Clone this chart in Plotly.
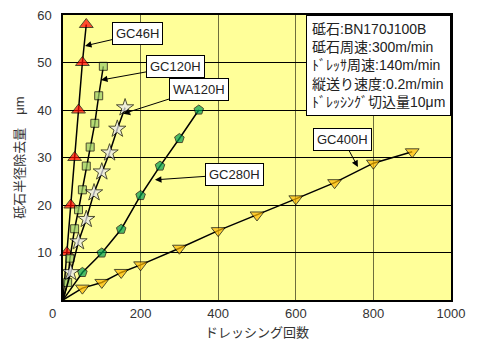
import plotly.graph_objects as go

# ---- data ----
gc46h_x = [0, 10, 20, 30, 40, 50, 60]
gc46h_y = [0, 10, 20, 30, 40, 50, 58]

gc120h_x = [0, 12, 18, 30, 40, 50, 60, 70, 82, 92, 104]
gc120h_y = [0, 3.7, 8.8, 15, 19, 23.2, 28.2, 32.2, 37.2, 43, 49.2]

wa120h_x = [0, 20, 40, 60, 80, 100, 120, 140, 160]
wa120h_y = [0, 5.8, 12.3, 17, 22.6, 27, 31, 36, 40.5]

gc280h_x = [0, 50, 100, 150, 200, 250, 300, 350]
gc280h_y = [0, 5.8, 9.9, 14.9, 22, 28.2, 34, 40]

gc400h_x = [0, 50, 100, 150, 200, 300, 400, 500, 600, 700, 800, 900]
gc400h_y = [0, 2.5, 3.7, 5.8, 7.4, 10.9, 14.6, 17.9, 21.3, 24.7, 28.8, 31.2]

x_ticks = [200, 400, 600, 800, 1000]
y_ticks = [10, 20, 30, 40, 50, 60]

info_lines = ["砥石:BN170J100B", "砥石周速:300m/min", "ﾄﾞﾚｯｻ周速:140m/min",
              "縦送り速度:0.2m/min", "ﾄﾞﾚｯｼﾝｸﾞ切込量10μm"]

FONT = "Liberation Sans, Arial, Noto Sans CJK JP, sans-serif"

series = [
    ("GC46H", gc46h_x, gc46h_y, "triangle-up", 12, "#FF0000"),
    ("GC120H", gc120h_x, gc120h_y, "square", 8, "#99CC66"),
    ("WA120H", wa120h_x, wa120h_y, "star", 13, "#E8E8F4"),
    ("GC280H", gc280h_x, gc280h_y, "pentagon", 10, "#00A050"),
    ("GC400H", gc400h_x, gc400h_y, "triangle-down", 12, "#FFB800"),
]

fig = go.Figure()
for name, xs, ys, sym, sz, col in series:
    sizes = [0] + [sz] * (len(xs) - 1)
    fig.add_trace(go.Scatter(
        x=xs, y=ys, mode="lines+markers", name=name,
        line=dict(color="black", width=1.5),
        marker=dict(symbol=sym, size=sizes, color=col,
                    line=dict(color="black", width=1)),
        showlegend=False, cliponaxis=False,
    ))

# arrow labels: (text, target x, target y, ax, ay)
labels = [
    ("GC46H", 56.7, 53.5, 52, -12),
    ("GC120H", 98, 46.3, 74.5, -13.5),
    ("WA120H", 154.6, 39.2, 76.5, -24.5),
    ("GC280H", 237, 25.3, 80, -5.5),
    ("GC400H", 760, 28, -15, -28),
]
for txt, x, y, ax, ay in labels:
    fig.add_annotation(
        x=x, y=y, ax=ax, ay=ay, text=txt, showarrow=True,
        arrowhead=2, arrowsize=1.3, arrowwidth=1, arrowcolor="black",
        bgcolor="white", bordercolor="black", borderwidth=1, borderpad=3,
        font=dict(family=FONT, size=13, color="#222222"),
    )

fig.add_annotation(
    xref="paper", yref="paper", x=1, y=1, xanchor="right", yanchor="top",
    text="<br>".join(info_lines), showarrow=False, align="left",
    bgcolor="white", bordercolor="black", borderwidth=1, borderpad=5,
    font=dict(family=FONT, size=14, color="#222222"),
)

# shared origin label
fig.add_annotation(x=0, y=0, text="0", showarrow=False, xshift=-11, yshift=-13,
                   font=dict(family=FONT, size=13, color="#333333"))

# page body has an 8px default margin, so the figure is 8px smaller
fig.update_layout(
    width=474, height=347,
    margin=dict(l=55, r=31, t=7, b=55),
    paper_bgcolor="white", plot_bgcolor="#FFFF99",
    font=dict(family=FONT, size=13, color="#333333"),
    xaxis=dict(range=[0, 1000], tickvals=x_ticks, showgrid=True,
               gridcolor="#6E6E3C", gridwidth=1.2, zeroline=False,
               showline=True, linecolor="black", linewidth=1.5, mirror=True,
               ticks="", ticklabelstandoff=1, automargin=False,
               ticklabeloverflow="allow",
               title=dict(text="ドレッシング回数", standoff=8,
                          font=dict(size=13))),
    yaxis=dict(range=[0, 60], tickvals=y_ticks, showgrid=True,
               gridcolor="black", gridwidth=1, zeroline=False,
               showline=True, linecolor="black", linewidth=1.5, mirror=True,
               ticks="", ticklabelstandoff=7, automargin=False,
               ticklabeloverflow="allow",
               title=dict(text="砥石半径除去量　μm", standoff=10,
                          font=dict(size=13))),
)

fig.write_html("out.html")
